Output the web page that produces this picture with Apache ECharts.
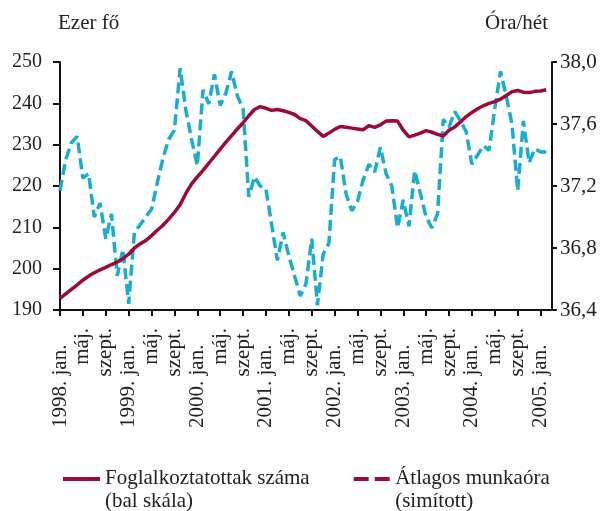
<!DOCTYPE html>
<html>
<head>
<meta charset="utf-8">
<script src="https://cdn.jsdelivr.net/npm/echarts@6/dist/echarts.min.js"></script>
<style>
html, body { margin: 0; padding: 0; background: #fff; }
#chart { width: 609px; height: 511px; }
</style>
</head>
<body>
<div id="chart"></div>
<script>
// hónapnevek, évek
var monthNames = ['jan.', 'febr.', 'márc.', 'ápr.', 'máj.', 'jún.', 'júl.', 'aug.', 'szept.', 'okt.', 'nov.', 'dec.'];
var years = [1998, 1999, 2000, 2001, 2002, 2003, 2004, 2005];

// foglalkoztatottak száma (ezer fő), 1998. jan. - 2005. febr.
var employment = [
    192.8, 193.9, 195.0, 196.1, 197.2, 198.2, 199.0, 199.7, 200.3, 201.0, 201.6, 202.4,
    203.5, 205.0, 206.0, 206.8, 208.0, 209.3, 210.5, 212.0, 213.6, 215.5, 218.2, 220.5,
    222.2, 223.8, 225.5, 227.2, 228.9, 230.6, 232.2, 233.8, 235.3, 237.0, 238.5, 239.2,
    238.8, 238.3, 238.5, 238.2, 237.8, 237.3, 236.3, 235.8, 234.5, 233.2, 232.0, 232.8,
    233.7, 234.4, 234.2, 234.0, 233.8, 233.6, 234.6, 234.2, 234.8, 235.7, 235.8, 235.7,
    233.5, 231.9, 232.3, 232.8, 233.4, 233.0, 232.5, 232.1, 233.5, 234.3, 235.5, 236.8,
    237.8, 238.7, 239.4, 240.0, 240.4, 241.0, 241.9, 242.8, 243.1, 242.7, 242.6, 242.9,
    243.0, 243.3
];

// átlagos munkaóra (óra/hét, simított)
var hours = [
    37.17, 37.37, 37.48, 37.52, 37.25, 37.28, 37.00, 37.09, 36.86, 37.02, 36.62, 36.79,
    36.44, 36.90, 36.95, 37.00, 37.05, 37.22, 37.38, 37.50, 37.56, 37.96, 37.69, 37.50,
    37.33, 37.82, 37.73, 37.92, 37.72, 37.80, 37.94, 37.78, 37.70, 37.13, 37.26, 37.20,
    37.18, 36.95, 36.72, 36.90, 36.75, 36.62, 36.49, 36.57, 36.86, 36.43, 36.76, 36.83,
    37.37, 37.39, 37.15, 37.04, 37.10, 37.24, 37.34, 37.29, 37.45, 37.28, 37.20, 36.93,
    37.11, 36.94, 37.30, 37.15, 37.00, 36.93, 37.02, 37.63, 37.58, 37.68, 37.62, 37.55,
    37.34, 37.40, 37.46, 37.43, 37.70, 37.94, 37.78, 37.60, 37.17, 37.62, 37.35, 37.44,
    37.42, 37.42
];

var seriesNames = ['Foglalkoztatottak száma', 'Átlagos munkaóra'];
var seriesNotes = ['(bal skála)', '(simított)'];

var leftAxis = { min: 190, max: 250, interval: 10 };
var rightAxis = { min: 36.4, max: 38.0, interval: 0.4 };

var categories = [];
years.forEach(function (y) {
    monthNames.forEach(function (m, i) {
        if (y < 2005 || i < 3) categories.push(y + '. ' + m);
    });
});

var RED = '#9c0a36';
var CYAN = '#1aadcf';
var FONT = 'Liberation Serif';

// jelmagyarázat ikonjai: vonal a doboz tetején (az első szövegsorhoz igazítva)
var ICON_SOLID = 'path://M0,0H37V4H0Z M0,25.9H0.1V26H0Z';
var ICON_DASHED = 'path://M0,0H15V4H0Z M21,0H36V4H21Z M0,25.9H0.1V26H0Z';

window.onload = function () {
    var myChart = echarts.init(document.getElementById('chart'));

    var option = {
        animation: false,
        textStyle: { fontFamily: FONT },
        grid: { left: 60, right: 57, top: 62, bottom: 201 },
        title: [
            { text: 'Ezer fő', left: 53, top: 8, textStyle: { fontFamily: FONT, fontSize: 21, fontWeight: 'normal', color: '#222' } },
            { text: 'Óra/hét', right: 56, top: 8, textStyle: { fontFamily: FONT, fontSize: 21, fontWeight: 'normal', color: '#222' } }
        ],
        legend: {
            left: 58,
            top: 462,
            itemWidth: 37,
            itemHeight: 26,
            itemGap: 44,
            textStyle: { fontFamily: FONT, fontSize: 21, color: '#222', lineHeight: 23 },
            formatter: function (name) {
                return name + '\n' + seriesNotes[seriesNames.indexOf(name)];
            },
            data: [
                { name: seriesNames[0], icon: ICON_SOLID, itemStyle: { color: RED } },
                { name: seriesNames[1], icon: ICON_DASHED, itemStyle: { color: RED } }
            ]
        },
        xAxis: [
            {
                type: 'category',
                data: categories,
                boundaryGap: false,
                axisLine: { lineStyle: { color: '#111', width: 2 } },
                axisTick: { interval: 3, length: 6, lineStyle: { color: '#111', width: 2 } },
                axisLabel: {
                    interval: 3,
                    rotate: 90,
                    margin: 18,
                    fontFamily: FONT,
                    fontSize: 21,
                    color: '#222',
                    formatter: function (v) {
                        var m = v.split(' ')[1];
                        return m === 'jan.' ? '' : m;
                    }
                },
                splitLine: { show: false }
            },
            {
                type: 'category',
                data: categories,
                boundaryGap: false,
                position: 'bottom',
                axisLine: { show: false },
                axisTick: { show: false },
                axisLabel: {
                    interval: function (i) { return i % 12 === 0; },
                    rotate: 90,
                    align: 'left',
                    margin: 118,
                    fontFamily: FONT,
                    fontSize: 21,
                    color: '#222'
                },
                splitLine: { show: false }
            }
        ],
        yAxis: [
            {
                type: 'value',
                min: leftAxis.min,
                max: leftAxis.max,
                interval: leftAxis.interval,
                axisLine: { show: true, lineStyle: { color: '#111', width: 2 } },
                axisTick: { show: true, length: 7, lineStyle: { color: '#111', width: 2 } },
                axisLabel: { margin: 18, fontFamily: FONT, fontSize: 20, color: '#222' },
                splitLine: { show: false }
            },
            {
                type: 'value',
                position: 'right',
                min: rightAxis.min,
                max: rightAxis.max,
                interval: rightAxis.interval,
                axisLine: { show: true, lineStyle: { color: '#111', width: 2 } },
                axisTick: { show: true, length: 5, lineStyle: { color: '#111', width: 2 } },
                axisLabel: {
                    margin: 8,
                    fontFamily: FONT,
                    fontSize: 21,
                    color: '#222',
                    formatter: function (v) { return v.toFixed(1).replace('.', ','); }
                },
                splitLine: { show: false }
            }
        ],
        series: [
            {
                name: seriesNames[1],
                type: 'line',
                yAxisIndex: 1,
                symbol: 'none',
                itemStyle: { color: CYAN },
                lineStyle: { color: CYAN, width: 3.5, type: [11, 5] },
                data: hours
            },
            {
                name: seriesNames[0],
                type: 'line',
                yAxisIndex: 0,
                symbol: 'none',
                itemStyle: { color: RED },
                lineStyle: { color: RED, width: 3.5 },
                data: employment
            }
        ]
    };

    myChart.setOption(option);
};
</script>
</body>
</html>
